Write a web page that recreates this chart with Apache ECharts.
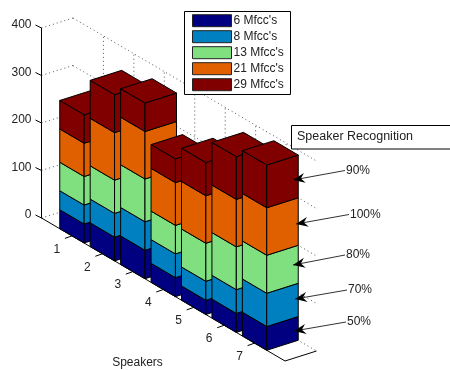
<!DOCTYPE html>
<html>
<head>
<meta charset="utf-8">
<style>html,body{margin:0;padding:0;background:#fff}#c{width:450px;height:370px}</style>
<script src="https://cdn.jsdelivr.net/npm/echarts@6/dist/echarts.min.js"></script>
</head>
<body>
<div id="c"></div>
<script>
const speakers = ['1', '2', '3', '4', '5', '6', '7'];
const mfcc6 = [40, 50, 60, 40, 30, 40, 50];
const mfcc8 = [40, 50, 60, 50, 40, 50, 70];
const mfcc13 = [60, 70, 90, 60, 80, 90, 80];
const mfcc21 = [70, 100, 100, 90, 100, 100, 100];
const mfcc29 = [60, 80, 60, 50, 70, 90, 90];
const seriesNames = ["6 Mfcc's", "8 Mfcc's", "13 Mfcc's", "21 Mfcc's", "29 Mfcc's"];
const seriesColors = ['#000080', '#0080C0', '#80E080', '#E06000', '#800000'];
const zTicks = [0, 100, 200, 300, 400];
const callouts = [
  { text: '90%', x: 346, y: 170.5, tip: [293, 180] },
  { text: '100%', x: 350, y: 214.5, tip: [296, 224] },
  { text: '80%', x: 346, y: 255, tip: [293, 265] },
  { text: '70%', x: 348, y: 290, tip: [295, 299] },
  { text: '50%', x: 347, y: 322, tip: [294, 331] }
];

const FONT = 'Liberation Sans, Arial, sans-serif';
const INK = '#222';
const plot = { left: 41.5, top: 28, width: 243.5, height: 190 };
const xMax = 8;
const barHalf = 0.4;
const depthVec = [31.5, -10];
const skew = 143 / 243.5;

// Oblique projection: speaker runs along the skewed floor edge, depth runs up and to the right.
function project(api, x, depth, value) {
  const p = api.coord([x, value]);
  return [p[0] + depth * depthVec[0], p[1] + (p[0] - plot.left) * skew + depth * depthVec[1]];
}

function face(points, color, z2) {
  return {
    type: 'polygon',
    z2,
    shape: { points },
    style: { fill: color, stroke: '#000', lineWidth: 1 }
  };
}

function makeBarRenderer(layer) {
  return function (params, api) {
    const x = api.value(0), lo = api.value(1), hi = api.value(2);
    const x0 = x - barHalf, x1 = x + barHalf;
    const color = seriesColors[layer];
    const base = params.dataIndex * 10 + layer + 10;
    const children = [
      face([project(api, x0, 0, lo), project(api, x1, 0, lo), project(api, x1, 0, hi), project(api, x0, 0, hi)], color, base),
      face([project(api, x1, 0, lo), project(api, x1, 1, lo), project(api, x1, 1, hi), project(api, x1, 0, hi)], color, base)
    ];
    if (layer === seriesNames.length - 1) {
      children.push(face([project(api, x0, 0, hi), project(api, x1, 0, hi), project(api, x1, 1, hi), project(api, x0, 1, hi)], color, base));
    }
    return { type: 'group', children };
  };
}

const layers = [mfcc6, mfcc8, mfcc13, mfcc21, mfcc29];
const running = speakers.map(() => 0);
const barSeries = layers.map((vals, layer) => ({
  type: 'custom',
  name: seriesNames[layer],
  coordinateSystem: 'cartesian2d',
  clip: false,
  silent: true,
  itemStyle: { color: seriesColors[layer] },
  renderItem: makeBarRenderer(layer),
  data: vals.map((v, i) => {
    const row = [i + 1, running[i], running[i] + v];
    running[i] += v;
    return row;
  })
}));

function seg(a, b, dashed) {
  return {
    type: 'line',
    z2: 1,
    shape: { x1: a[0], y1: a[1], x2: b[0], y2: b[1] },
    style: dashed
      ? { stroke: '#555', lineWidth: 1, lineDash: [1, 3] }
      : { stroke: '#000', lineWidth: 1 }
  };
}

// Walls, floor edges, slanted ticks and speaker labels.
const frameSeries = {
  type: 'custom',
  name: 'frame',
  coordinateSystem: 'cartesian2d',
  clip: false,
  silent: true,
  data: [[0, 0]],
  renderItem(params, api) {
    const out = [];
    zTicks.forEach(z => {
      out.push(seg(project(api, 0, 0, z), project(api, 0, 1, z), true));
      out.push(seg(project(api, 0, 1, z), project(api, xMax, 1, z), true));
      const o = project(api, 0, 0, z);
      out.push(seg(o, [o[0] - 6, o[1] - 3], false));
    });
    speakers.forEach((s, i) => {
      const x = i + 1;
      out.push(seg(project(api, x, 1, 0), project(api, x, 1, 400), true));
      const a = project(api, x, 0, 0);
      out.push(seg(a, [a[0] - 7, a[1] + 2.5], false));
      out.push({
        type: 'text',
        z2: 1,
        style: {
          text: s, x: a[0] - 15, y: a[1] + 13.5, align: 'center', verticalAlign: 'middle',
          fill: INK, font: '12px ' + FONT
        }
      });
    });
    out.push(seg(project(api, 0, 0, 0), project(api, xMax, 0, 0), false));
    out.push(seg(project(api, xMax, 0, 0), project(api, xMax, 1, 0), false));
    return { type: 'group', children: out };
  }
};

function arrowHead(tip, from) {
  const dx = from[0] - tip[0], dy = from[1] - tip[1];
  const len = Math.hypot(dx, dy);
  const ux = dx / len, uy = dy / len, nx = -uy, ny = ux;
  const at = (a, b) => [tip[0] + ux * a + nx * b, tip[1] + uy * a + ny * b];
  return [tip, at(12, 5), at(8, 0), at(12, -5)];
}

const calloutGraphics = [];
callouts.forEach(c => {
  const from = [c.x - 1, c.y];
  calloutGraphics.push({
    type: 'line', z: 6,
    shape: { x1: from[0], y1: from[1], x2: c.tip[0], y2: c.tip[1] },
    style: { stroke: '#333', lineWidth: 1 }
  });
  calloutGraphics.push({
    type: 'polygon', z: 6,
    shape: { points: arrowHead(c.tip, from) },
    style: { fill: '#000' }
  });
  calloutGraphics.push({
    type: 'text', z: 6, x: c.x, y: c.y,
    style: { text: c.text, fill: INK, font: '12px ' + FONT, verticalAlign: 'middle' }
  });
});

const chart = echarts.init(document.getElementById('c'), null, { renderer: 'canvas' });
chart.setOption({
  backgroundColor: '#fff',
  animation: false,
  textStyle: { fontFamily: FONT },
  grid: { left: plot.left, top: plot.top, width: plot.width, height: plot.height },
  xAxis: { type: 'value', min: 0, max: xMax, show: false },
  yAxis: {
    type: 'value', min: 0, max: 400, interval: 100,
    axisLine: { show: true, lineStyle: { color: '#000', width: 1 } },
    axisTick: { show: false },
    splitLine: { show: false },
    axisLabel: {
      color: INK, fontSize: 12, fontFamily: FONT, margin: 10,
      verticalAlign: 'bottom', lineHeight: 6
    }
  },
  legend: {
    data: seriesNames,
    orient: 'vertical',
    left: 187, top: 6.7,
    padding: 5,
    itemWidth: 39, itemHeight: 12, itemGap: -2,
    icon: 'rect',
    z: 5,
    selectedMode: false,
    itemStyle: { borderColor: '#222', borderWidth: 1 },
    textStyle: { color: INK, fontSize: 12, lineHeight: 14, fontFamily: FONT, padding: [4, 0, 0, -3] }
  },
  graphic: [
    {
      type: 'rect', z: 4, shape: { x: 184.5, y: 11.5, width: 106, height: 83 },
      style: { fill: '#fff', stroke: '#000', lineWidth: 1 }
    },
    {
      type: 'rect', z: 4, shape: { x: 291.5, y: 125.5, width: 170, height: 23.5 },
      style: { fill: '#fff', stroke: '#000', lineWidth: 1 }
    },
    {
      type: 'text', z: 4, x: 297, y: 137,
      style: { text: 'Speaker Recognition', fill: INK, font: '12.5px ' + FONT, verticalAlign: 'middle' }
    },
    {
      type: 'text', z: 4, x: 137.5, y: 363,
      style: { text: 'Speakers', fill: INK, font: '12px ' + FONT, align: 'center', verticalAlign: 'middle' }
    },
    ...calloutGraphics
  ],
  series: [frameSeries, ...barSeries]
});
</script>
</body>
</html>
